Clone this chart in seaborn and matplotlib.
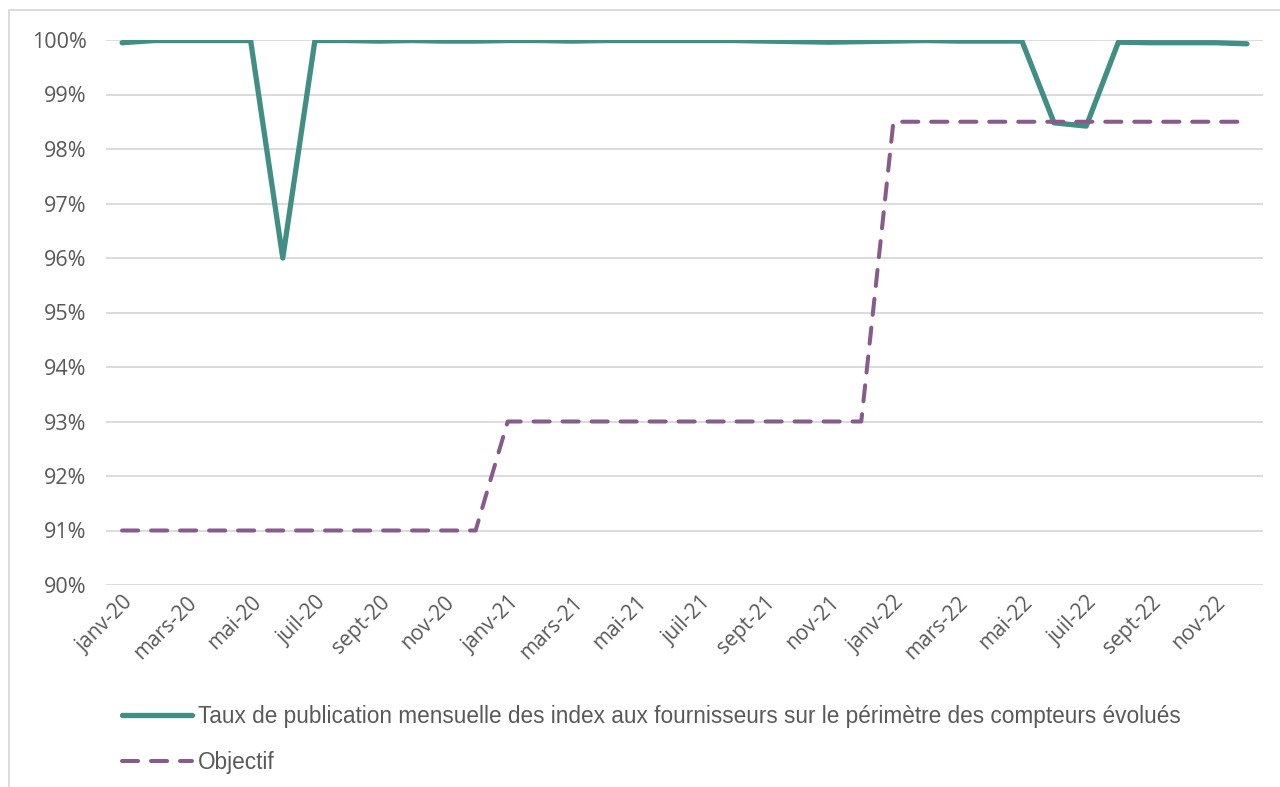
import numpy as np
import pandas as pd
import matplotlib
matplotlib.use("Agg")
import matplotlib.pyplot as plt
import seaborn as sns
from matplotlib.lines import Line2D

months = ["janv", "févr", "mars", "avr", "mai", "juin", "juil", "août", "sept", "oct", "nov", "déc"]
years = ["20", "21", "22"]
categories = [f"{m}-{y}" for y in years for m in months]

taux = [99.95, 99.99, 99.99, 99.99, 99.99, 96.0, 99.99, 99.99, 99.98, 99.99, 99.98, 99.98,
        99.99, 99.99, 99.98, 99.99, 99.99, 99.99, 99.99, 99.99, 99.98, 99.97, 99.96, 99.97,
        99.98, 99.99, 99.98, 99.98, 99.98, 98.48, 98.42, 99.96, 99.95, 99.95, 99.95, 99.93]
objectif = [91]*12 + [93]*12 + [98.5]*12

label_taux = "Taux de publication mensuelle des index aux fournisseurs sur le périmètre des compteurs évolués"
label_obj = "Objectif"

sns.set_theme(style="white")
plt.rcParams['font.family'] = ['Liberation Sans', 'DejaVu Sans']

df = pd.DataFrame({"pos": np.arange(len(categories)), "taux": taux, "objectif": objectif})

fig = plt.figure(figsize=(12.8, 7.87), dpi=100)
ax = fig.add_axes([106/1280, 1-585/787, (1263-106)/1280, (585-40)/787])

green = "#418f84"
purple = "#875b8c"

sns.lineplot(data=df, x="pos", y="taux", ax=ax, color=green, linewidth=3.8,
             solid_capstyle="round", solid_joinstyle="round")
sns.lineplot(data=df, x="pos", y="objectif", ax=ax, color=purple, linewidth=2.9)
obj_line = ax.lines[-1]
obj_line.set_dashes((4, 3.2))
obj_line.set_dash_capstyle("round")

tick_family = ['Open Sans', 'DejaVu Sans']
ax.set_xlim(-0.5, len(categories) - 0.5)
ax.set_ylim(90, 100)
ax.set_yticks(np.arange(90, 101, 1))
ax.set_yticklabels([f"{v}%" for v in range(90, 101)], color="#595959", fontsize=15.5,
                   family=tick_family)
ax.set_xticks(np.arange(0, len(categories), 2))
ax.set_xticklabels(categories[::2], rotation=45, ha="right", rotation_mode="anchor",
                   color="#595959", fontsize=15, family=tick_family)
ax.tick_params(axis="x", length=0, pad=5)
ax.tick_params(axis="y", length=0, pad=14)
ax.grid(axis="y", color="#d9d9d9", linewidth=1.3)
ax.set_axisbelow(True)
for s in ax.spines.values():
    s.set_visible(False)
ax.set_xlabel("")
ax.set_ylabel("")

# outer chart frame (left and top visible)
fig.add_artist(Line2D([9/1280, 9/1280], [0, 1-10/787], transform=fig.transFigure,
                      color="#d9d9d9", linewidth=1.3))
fig.add_artist(Line2D([9/1280, 1], [1-10/787, 1-10/787], transform=fig.transFigure,
                      color="#d9d9d9", linewidth=1.3))

h1 = Line2D([], [], color=green, linewidth=3.8, solid_capstyle="round")
h2 = Line2D([], [], color=purple, linewidth=2.9, dashes=(4, 3.2), dash_capstyle="round")
leg = fig.legend([h1, h2], [label_taux, label_obj], loc="upper left",
                 bbox_to_anchor=(122/1280, 1-705/787), frameon=False, fontsize=16.3,
                 handlelength=3.1, handletextpad=0.25, labelspacing=1.0, borderpad=0,
                 borderaxespad=0)
for t in leg.get_texts():
    t.set_color("#595959")

fig.savefig("out.png", dpi=100)
